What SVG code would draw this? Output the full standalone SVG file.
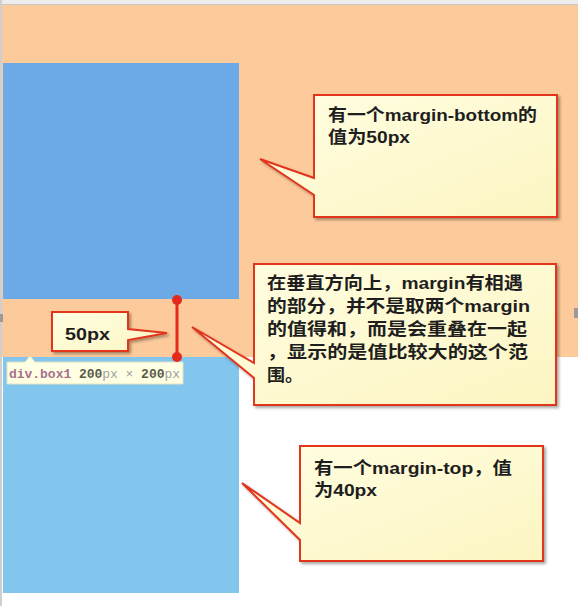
<svg xmlns="http://www.w3.org/2000/svg" width="578" height="606" viewBox="0 0 578 606">
  <defs>
    <linearGradient id="noteFill" x1="0" y1="0" x2="1" y2="1">
      <stop offset="0" stop-color="#FFFEE2"/>
      <stop offset="1" stop-color="#FCF5C2"/>
    </linearGradient>
    <filter id="shadow" x="-10%" y="-10%" width="125%" height="130%">
      <feDropShadow dx="2" dy="2" stdDeviation="1.6" flood-color="#000" flood-opacity="0.35"/>
    </filter>
    <style>
      .note { fill: url(#noteFill); stroke: #E2341F; stroke-width: 2; stroke-linejoin: miter; filter: url(#shadow); }
      .txt { font-family: "Liberation Sans", "Noto Sans CJK SC", sans-serif; font-weight: bold; font-size: 17px; fill: #1E1E1E; }
      .mono { font-family: "Liberation Mono", monospace; font-size: 13px; font-weight: bold; }
      .measure { stroke: #E42A1C; stroke-width: 3; fill: none; }
      .dot { fill: #E42A1C; }
    </style>
  </defs>

  <!-- page background -->
  <g id="page">
    <rect x="0" y="0" width="578" height="606" fill="#FFFFFF"/>
    <rect x="0" y="0" width="578" height="4" fill="#EDEDED"/>
    <rect x="0" y="4" width="578" height="1" fill="#C9C9C9"/>
    <rect x="2" y="5" width="576" height="352" fill="#FDCB9B"/>
    <rect x="0" y="0" width="2" height="606" fill="#CFCFCF"/>
    <rect x="574" y="308" width="4" height="10" fill="#9A9A9A"/>
    <rect x="0" y="314" width="3" height="8" fill="#9A9A9A"/>
  </g>

  <!-- the two stacked boxes -->
  <g id="box1">
    <rect x="3" y="63" width="236" height="236" fill="#6BAAE6"/>
  </g>
  <g id="box2">
    <rect x="3" y="357" width="236" height="236" fill="#82C5ED"/>
  </g>

  <!-- element tooltip -->
  <g id="tooltip">
    <path d="M7,362 H25 L30,356 L35,362 H183 V384 H7 Z" fill="#FFFFE4" stroke="#E4E2C0" stroke-width="1"/>
    <text class="mono" x="9" y="378" textLength="171" lengthAdjust="spacing"><tspan fill="#A7708C">div.box1</tspan><tspan fill="#5A5A4A"> 200</tspan><tspan fill="#A0A0A0" font-weight="normal">px × </tspan><tspan fill="#5A5A4A">200</tspan><tspan fill="#A0A0A0" font-weight="normal">px</tspan></text>
  </g>

  <!-- collapsed margin measurement -->
  <g id="connectors">
    <line class="measure" x1="177" y1="300" x2="177" y2="357"/>
    <circle class="dot" cx="177" cy="300" r="5"/>
    <circle class="dot" cx="177" cy="357" r="5"/>
  </g>

  <g id="label-50px">
    <path class="note" d="M52,312 H128 V329 L167,333 L128,340 V351 H52 Z"/>
    <text class="txt" x="65" y="340" font-size="19" textLength="45" lengthAdjust="spacingAndGlyphs">50px</text>
  </g>

  <g id="note-bottom">
    <path class="note" d="M314,95 H557 V217 H314 V195 L260,159 L314,178 Z"/>
    <text class="txt" x="328" y="121" textLength="209" lengthAdjust="spacingAndGlyphs">有一个margin-bottom的</text>
    <text class="txt" x="328" y="143" textLength="82" lengthAdjust="spacingAndGlyphs">值为50px</text>
  </g>

  <g id="note-collapse">
    <path class="note" d="M254,264 H556 V405 H254 V378 L192,327 L254,363 Z"/>
    <text class="txt" x="267" y="289" textLength="256" lengthAdjust="spacingAndGlyphs">在垂直方向上，margin有相遇</text>
    <text class="txt" x="267" y="312" textLength="263" lengthAdjust="spacingAndGlyphs">的部分，并不是取两个margin</text>
    <text class="txt" x="267" y="335" textLength="260" lengthAdjust="spacingAndGlyphs">的值得和，而是会重叠在一起</text>
    <text class="txt" x="267" y="358" textLength="261" lengthAdjust="spacingAndGlyphs">，显示的是值比较大的这个范</text>
    <text class="txt" x="267" y="381" textLength="36" lengthAdjust="spacingAndGlyphs">围。</text>
  </g>

  <g id="note-top">
    <path class="note" d="M300,446 H543 V561 H300 V540 L242,483 L300,523 Z"/>
    <text class="txt" x="314" y="474" textLength="198" lengthAdjust="spacingAndGlyphs">有一个margin-top，值</text>
    <text class="txt" x="314" y="496" textLength="63" lengthAdjust="spacingAndGlyphs">为40px</text>
  </g>
</svg>
